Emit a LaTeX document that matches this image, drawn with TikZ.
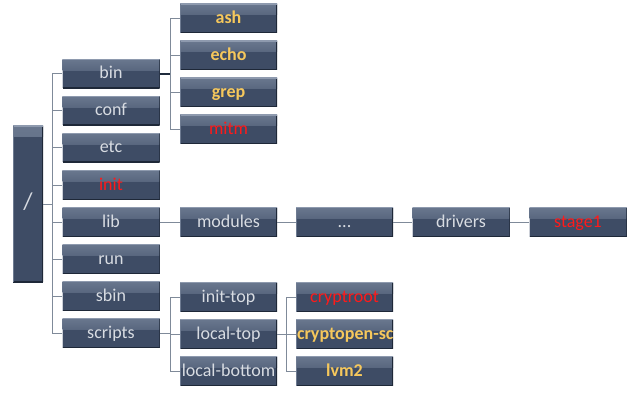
\documentclass[tikz,border=0pt]{standalone}
\usepackage{fontspec}
\setmainfont{Carlito}
\definecolor{boxfill}{HTML}{3E4C65}
\definecolor{boxtop}{HTML}{69778E}
\definecolor{boxdark}{HTML}{1E2838}
\definecolor{boxlite}{HTML}{8E9AAE}
\definecolor{txtgray}{HTML}{D8DCE2}
\definecolor{txtgold}{HTML}{F6C85C}
\definecolor{txtred}{HTML}{FF1A1A}
\definecolor{linegray}{HTML}{7F8A99}
\definecolor{linedark}{HTML}{1F2B3C}
\tikzset{
  dirbox/.style={rectangle, inner sep=0pt, minimum width=97pt, minimum height=29pt,
    text height=14pt, text depth=4pt,
    fill=boxfill, text=txtgray, font=\fontsize{18}{20}\selectfont,
    path picture={
      \shade[top color=boxtop, bottom color=boxfill]
        (path picture bounding box.north west) rectangle ([yshift=-11pt]path picture bounding box.north east);
      \draw[boxdark, line width=2pt] (path picture bounding box.south west) -- (path picture bounding box.south east);
      \draw[boxdark, line width=1.2pt] (path picture bounding box.north east) -- (path picture bounding box.south east);
      \draw[boxlite, line width=1.4pt] (path picture bounding box.north west) -- (path picture bounding box.north east);
      \draw[boxlite!60!boxfill, line width=1pt] (path picture bounding box.north west) -- (path picture bounding box.south west);
    }},
  goldtxt/.style={text=txtgold, font=\fontsize{18}{20}\selectfont\bfseries},
  redtxt/.style={text=txtred},
  conn/.style={draw=linegray, line width=1pt},
  conndark/.style={draw=linedark, line width=1.6pt},
}
\begin{document}
\begin{tikzpicture}[x=1pt, y=-1pt]
\useasboundingbox (0,0) rectangle (640,401);
% root
\node[dirbox, minimum width=30pt, minimum height=156pt, font=\fontsize{24}{26}\selectfont] (root) at (28,204) {/};
% level 1
\node[dirbox] (bin) at (111,74) {bin};
\node[dirbox] (conf) at (111,111) {conf};
\node[dirbox] (etc) at (111,148) {etc};
\node[dirbox, redtxt] (init) at (111,185) {init};
\node[dirbox] (lib) at (111,222) {lib};
\node[dirbox] (run) at (111,259) {run};
\node[dirbox] (sbin) at (111,296) {sbin};
\node[dirbox] (scripts) at (111,333) {scripts};
% bin children
\node[dirbox, goldtxt] (ash) at (228.5,18.5) {ash};
\node[dirbox, goldtxt] (echo) at (228.5,55.5) {echo};
\node[dirbox, goldtxt] (grep) at (228.5,92.5) {grep};
\node[dirbox, redtxt] (mitm) at (228.5,129.5) {mitm};
% lib chain
\node[dirbox] (modules) at (228.5,222) {modules};
\node[dirbox] (dots) at (344.5,222) {...};
\node[dirbox] (drivers) at (461,222) {drivers};
\node[dirbox, redtxt] (stage1) at (578,222) {stage1};
% scripts children
\node[dirbox] (inittop) at (228.5,297) {init-top};
\node[dirbox] (localtop) at (228.5,334) {local-top};
\node[dirbox] (localbottom) at (228.5,371) {local-bottom};
% local-top children
\node[dirbox, redtxt] (cryptroot) at (344.5,297) {cryptroot};
\node[dirbox] (cryptopen) at (344.5,334) {};
\begin{scope}
  \clip (cryptopen.south west) rectangle (cryptopen.north east);
  \node[anchor=west, inner sep=0pt, text height=14pt, text depth=4pt, goldtxt] (cryptopentxt) at ([xshift=1pt]cryptopen.west) {cryptopen-sc};
\end{scope}
\node[dirbox, goldtxt] (lvm) at (344.5,371) {lvm2};
% connectors: root bus
\coordinate (rb) at (52,204);
\draw[conn] (root.east) -- (rb);
\foreach \n in {bin,conf,etc,init,lib,run,sbin,scripts}
  \draw[conn] (\n.west) -| (rb);
% bin bus
\coordinate (bb) at (170,74);
\draw[conndark] (bin.east) -- (bb);
\foreach \n in {ash,echo,grep,mitm}
  \draw[conn] (\n.west) -| (bb);
% lib chain
\draw[conn] (lib.east) -- (modules.west);
\draw[conn] (modules.east) -- (dots.west);
\draw[conn] (dots.east) -- (drivers.west);
\draw[conn] (drivers.east) -- (stage1.west);
% scripts bus
\coordinate (sb) at (170,333);
\draw[conn] (scripts.east) -- (sb);
\foreach \n in {inittop,localtop,localbottom}
  \draw[conn] (\n.west) -| (sb);
% local-top bus
\coordinate (lb) at (286,334);
\draw[conn] (localtop.east) -- (lb);
\foreach \n in {cryptroot,cryptopen,lvm}
  \draw[conn] (\n.west) -| (lb);
\end{tikzpicture}
\end{document}
